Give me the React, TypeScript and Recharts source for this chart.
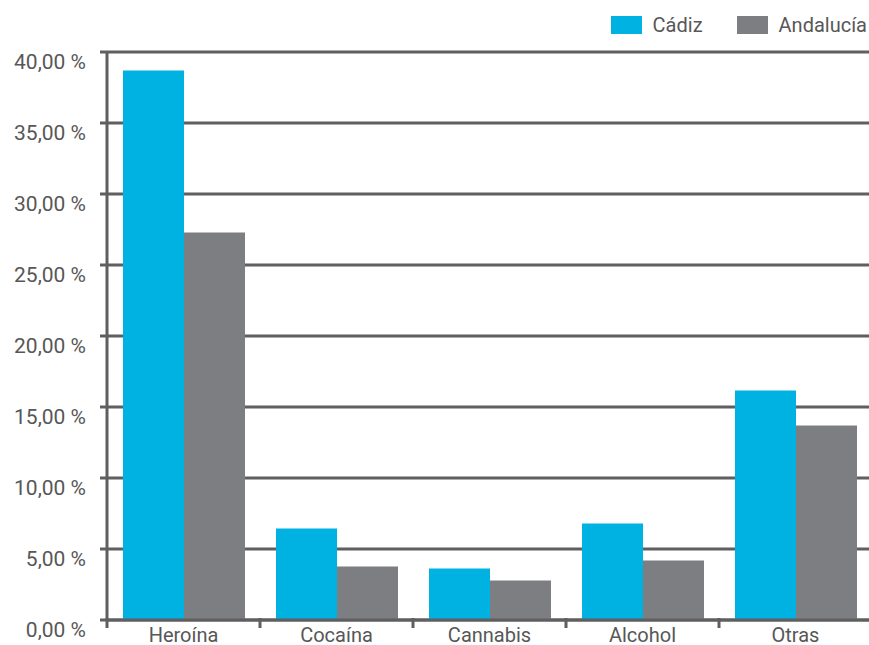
import React from 'react';
import { BarChart, Bar, XAxis, YAxis, CartesianGrid } from 'recharts';

const categories = ['Heroína', 'Cocaína', 'Cannabis', 'Alcohol', 'Otras'];
const cadiz = [38.7, 6.44, 3.63, 6.8, 16.16];
const andalucia = [27.29, 3.77, 2.78, 4.19, 13.7];
const yTicks = [0, 5, 10, 15, 20, 25, 30, 35, 40];
const seriesNames = ['Cádiz', 'Andalucía'];

const data = categories.map((c, i) => ({ name: c, cadiz: cadiz[i], andalucia: andalucia[i] }));

const FONT = 'Roboto, "Noto Sans", Arial, sans-serif';
const TEXT = '#575757';
const LINE = '#5f5f5f';
const BLUE = '#00b2e2';
const GRAY = '#7d7e82';
const colors = [BLUE, GRAY];
const RIGHT_MARGIN = -3;
const PLOT_W = 869 - 107 - RIGHT_MARGIN;

const XTick = (props: any) => {
  const { x, y, payload } = props;
  const half = PLOT_W / categories.length / 2;
  return (
    <g>
      <line x1={x - half} y1={y - 10} x2={x - half} y2={y} stroke={LINE} strokeWidth={3} />
      <text x={x} y={y + 14} textAnchor="middle" fill={TEXT} fontSize={20} fontFamily={FONT}>
        {payload.value}
      </text>
    </g>
  );
};

const YTick = (props: any) => {
  const { x, y, payload } = props;
  return (
    <text x={x} y={y + 17} textAnchor="end" fill={TEXT} fontSize={21} fontFamily={FONT}>
      {Number(payload.value).toFixed(2).replace('.', ',') + ' %'}
    </text>
  );
};

export default function App() {
  return (
    <div style={{ position: 'absolute', left: 0, top: 0, width: 869, height: 645, background: '#fff', overflow: 'hidden' }}>
      <BarChart
        width={869}
        height={645}
        data={data}
        margin={{ top: 52, right: RIGHT_MARGIN, left: 0, bottom: 0 }}
        barGap={0}
        barSize={61}
      >
        <CartesianGrid vertical={false} stroke={LINE} strokeWidth={3} />
        <XAxis
          dataKey="name"
          height={25}
          axisLine={{ stroke: LINE, strokeWidth: 3 }}
          tickLine={false}
          tick={<XTick />}
          interval={0}
        />
        <YAxis
          width={107}
          domain={[0, 40]}
          ticks={yTicks}
          interval={0}
          axisLine={{ stroke: LINE, strokeWidth: 3 }}
          tickLine={{ stroke: LINE, strokeWidth: 3 }}
          tickSize={7}
          tickMargin={14}
          tick={<YTick />}
        />
        <Bar dataKey="cadiz" name={seriesNames[0]} fill={BLUE} isAnimationActive={false} />
        <Bar dataKey="andalucia" name={seriesNames[1]} fill={GRAY} isAnimationActive={false} />
      </BarChart>
      <div
        style={{
          position: 'absolute',
          top: 13,
          right: 2,
          display: 'flex',
          alignItems: 'center',
          fontFamily: FONT,
          fontSize: 20,
          color: TEXT,
          lineHeight: '24px',
        }}
      >
        {seriesNames.map((n, i) => (
          <div key={n} style={{ display: 'flex', alignItems: 'center', marginLeft: i === 0 ? 0 : 34 }}>
            <div style={{ width: 31, height: 18, background: colors[i], marginRight: 11 }} />
            <span>{n}</span>
          </div>
        ))}
      </div>
    </div>
  );
}
